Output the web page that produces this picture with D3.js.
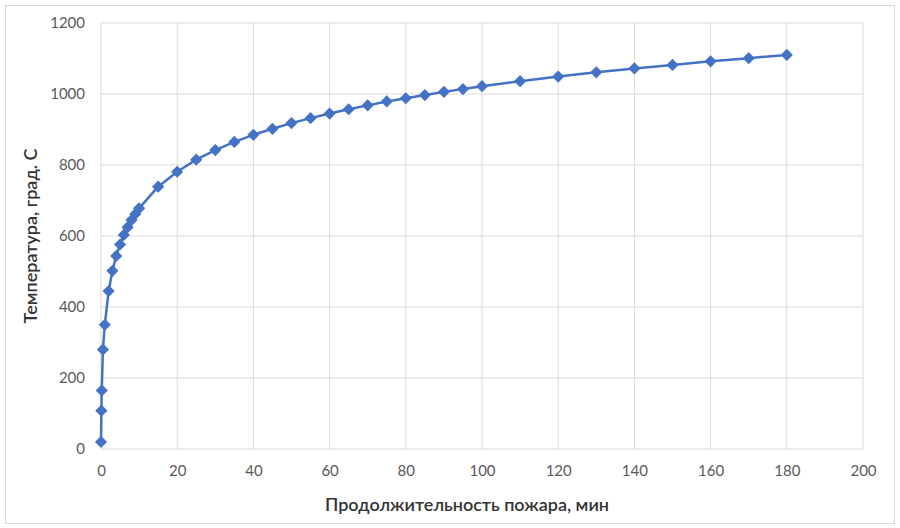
<!DOCTYPE html>
<html><head><meta charset="utf-8">
<script src="https://cdn.jsdelivr.net/npm/d3@7"></script>
<style>body{margin:0;background:#fff}svg{display:block}</style>
</head><body>
<svg id="c" width="900" height="528"></svg>
<script>
const times = [0, 0.1, 0.2, 0.5, 1, 2, 3, 4, 5, 6, 7, 8, 9, 10, 15, 20, 25, 30, 35, 40, 45, 50, 55, 60, 65, 70, 75, 80, 85, 90, 95, 100, 110, 120, 130, 140, 150, 160, 170, 180];
const temps = [20, 108, 165, 280, 350, 445, 502, 544, 576, 603, 625, 645, 662, 678, 739, 781, 815, 842, 865, 885, 902, 918, 932, 945, 957, 968, 979, 988, 997, 1006, 1014, 1022, 1036, 1049, 1061, 1072, 1082, 1092, 1101, 1110];
const xTicks = [0, 20, 40, 60, 80, 100, 120, 140, 160, 180, 200];
const yTicks = [0, 200, 400, 600, 800, 1000, 1200];
const xTitle = "Продолжительность пожара, мин";
const yTitle = "Температура, град. С";

const svg = d3.select("#c");
const font = "Lato, 'Open Sans', 'Liberation Sans', sans-serif";
svg.append("rect").attr("x",5.5).attr("y",5.5).attr("width",889).attr("height",518)
  .attr("fill","#fff").attr("stroke","#d9d9d9");
const x = d3.scaleLinear().domain([0,200]).range([101,863]);
const y = d3.scaleLinear().domain([0,1200]).range([449,23]);

const g = svg.append("g");
g.selectAll(".vg").data(xTicks).join("line").attr("x1",d=>x(d)).attr("x2",d=>x(d))
  .attr("y1",y(0)).attr("y2",y(1200)).attr("stroke","#d9d9d9").attr("stroke-width",1);
g.selectAll(".hg").data(yTicks).join("line").attr("y1",d=>y(d)).attr("y2",d=>y(d))
  .attr("x1",x(0)).attr("x2",x(200)).attr("stroke","#d9d9d9").attr("stroke-width",1);

const xa = svg.append("g").attr("transform",`translate(0,${y(0)})`)
  .call(d3.axisBottom(x).tickValues(xTicks).tickFormat(d3.format("d")).tickSize(0).tickPadding(16));
xa.select(".domain").remove();
xa.selectAll("text").attr("fill","#595959").style("font-family",font).style("font-size","15px");
const ya = svg.append("g").attr("transform",`translate(${x(0)},0)`)
  .call(d3.axisLeft(y).tickValues(yTicks).tickFormat(d3.format("d")).tickSize(0).tickPadding(16));
ya.select(".domain").remove();
ya.selectAll("text").attr("fill","#595959").style("font-family",font).style("font-size","15px");

svg.append("text").attr("x",(x(0)+x(200))/2 - 15).attr("y",511).attr("text-anchor","middle")
  .style("font-family",font).style("font-size","18px").style("font-weight","600").attr("fill","#333").text(xTitle);
svg.append("text").attr("transform",`translate(37,${(y(0)+y(1200))/2}) rotate(-90)`)
  .attr("text-anchor","middle").style("font-family",font).style("font-size","18px").style("font-weight","600")
  .attr("fill","#333").text(yTitle);

const data = times.map((t,i)=>({t, v: temps[i]}));
svg.append("path").datum(data).attr("fill","none").attr("stroke","#4472C4").attr("stroke-width",2.5)
  .attr("stroke-linejoin","round")
  .attr("d", d3.line().x(d=>x(d.t)).y(d=>y(d.v)));
svg.selectAll(".m").data(data).join("path")
  .attr("transform",d=>`translate(${x(d.t)},${y(d.v)})`)
  .attr("d", d3.symbol(d3.symbolDiamond2 || d3.symbolDiamond, 95)())
  .attr("fill","#4472C4");
</script>
</body></html>
